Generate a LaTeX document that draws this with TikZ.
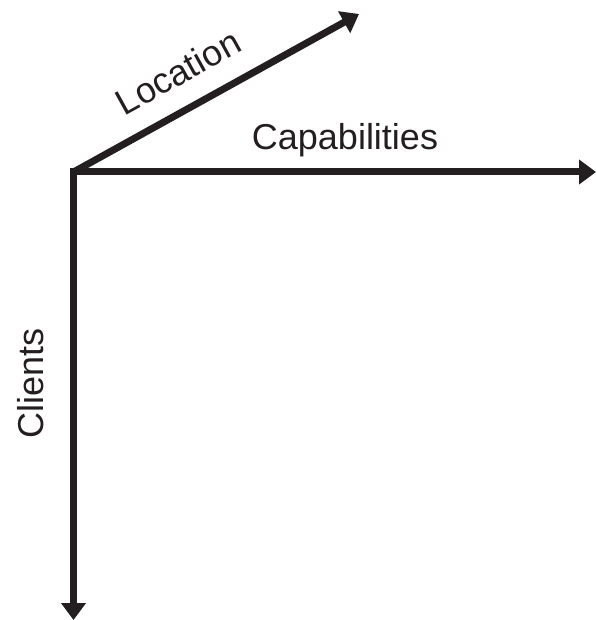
\documentclass[tikz,border=0pt]{standalone}
\usepackage{fontspec}
\setmainfont{Liberation Sans}
\usetikzlibrary{arrows.meta}
\definecolor{ink}{HTML}{231F20}
\begin{document}
\begin{tikzpicture}[x=1pt,y=-1pt,
  axis/.style={draw=ink,line width=7pt,-{Triangle[length=17pt,width=24pt]}},
  lbl/.style={text=ink,font=\fontsize{36}{40}\selectfont,inner sep=0pt}]
\useasboundingbox (0,0) rectangle (596,620);
\coordinate (o) at (73.5,172);
\coordinate (cap) at (596,172);
\coordinate (cli) at (73.5,620);
\coordinate (loc) at (359,14);
\draw[axis] ([xshift=-3.5pt]o) -- (cap);
\draw[axis] ([yshift=-3.5pt]o) -- (cli);
\draw[axis,line cap=butt] (o) -- (loc);
\node[lbl] (tcap) at (345,140) {Capabilities};
\node[lbl,rotate=90] (tcli) at (31,383) {Clients};
\node[lbl,rotate=29] (tloc) at (178,72) {Location};
\end{tikzpicture}
\end{document}
